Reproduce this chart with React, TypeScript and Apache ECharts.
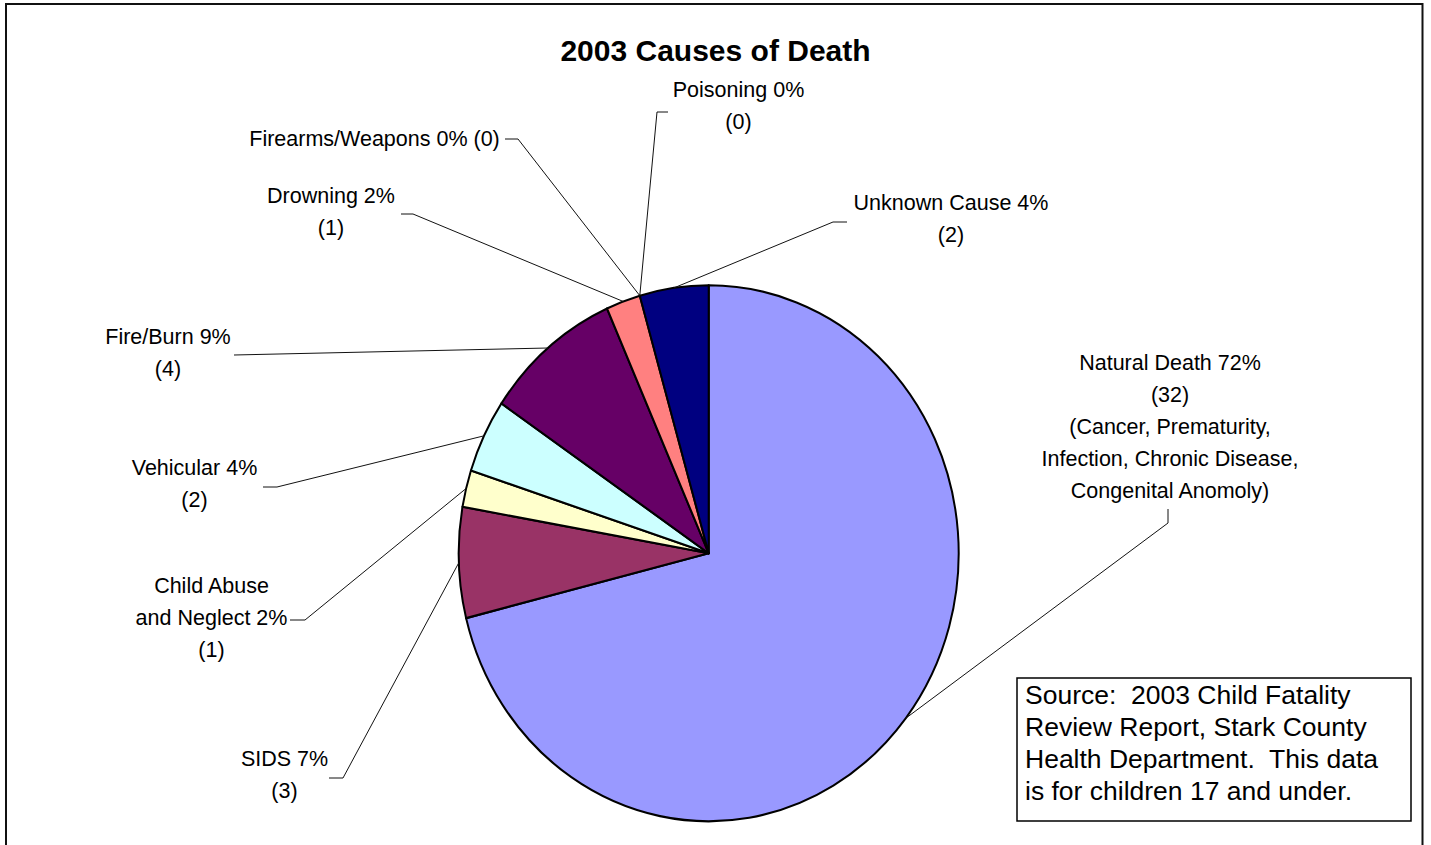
import React, { useEffect, useRef } from "react";
import * as echarts from "echarts";

// ---- data ----
const causes = [
  "Natural Death",
  "SIDS",
  "Child Abuse\nand Neglect",
  "Vehicular",
  "Fire/Burn",
  "Drowning",
  "Firearms/Weapons",
  "Poisoning",
  "Unknown Cause",
];
const deathCounts = [32, 3, 1, 2, 4, 1, 0, 0, 2];
const percentLabels = ["72%", "7%", "2%", "4%", "9%", "2%", "0%", "0%", "4%"];
const naturalDeathNote = "(Cancer, Prematurity,\nInfection, Chronic Disease,\nCongenital Anomoly)";
const sliceColors = ["#9999FF", "#993366", "#FFFFCC", "#CCFFFF", "#660066", "#FF8080", "#3366FF", "#CCCCFF", "#000080"];
const titleText = "2003 Causes of Death";
const sourceText =
  "Source:  2003 Child Fatality\nReview Report, Stark County\nHealth Department.  This data\nis for children 17 and under.";

// ---- layout (positions only) ----
const CX = 708.7;
const CY = 553.3;
const RX = 250;
const RY = 268;
const FONT = '"Liberation Sans", Arial, Helvetica, sans-serif';

const labelLayout = [
  { x: 1170, y: 427, pts: [[1168, 509], [1168, 523]] },
  { x: 284.5, y: 775, pts: [[329, 778], [343, 778]] },
  { x: 211.5, y: 617.5, pts: [[290, 620], [305, 620]] },
  { x: 194.5, y: 484, pts: [[263, 487], [277, 487]] },
  { x: 168, y: 353, pts: [[234, 355]] },
  { x: 331, y: 212, pts: [[401, 214], [413, 214]] },
  { x: 374.5, y: 139, pts: [[505, 139], [518, 139]] },
  { x: 738.5, y: 106, pts: [[668, 112], [657, 112]] },
  { x: 951, y: 219, pts: [[847, 222], [833, 222]] },
];

const total = deathCounts.reduce((a, b) => a + b, 0);
const cumStart = deathCounts.map((_, i) => deathCounts.slice(0, i).reduce((a, b) => a + b, 0));

function angles(i: number, v: number) {
  const a0 = -Math.PI / 2 + (2 * Math.PI * cumStart[i]) / total;
  const a1 = -Math.PI / 2 + (2 * Math.PI * (cumStart[i] + v)) / total;
  return [a0, a1];
}

function labelText(i: number) {
  const pct = percentLabels[i];
  const cnt = `(${deathCounts[i]})`;
  if (i === 6) return `${causes[i]} ${pct} ${cnt}`;
  let t = `${causes[i]} ${pct}\n${cnt}`;
  if (i === 0) t += "\n" + naturalDeathNote;
  return t;
}

export default function App() {
  const ref = useRef<HTMLDivElement>(null);
  useEffect(() => {
    if (!ref.current) return;
    const chart = echarts.init(ref.current, null, { renderer: "svg" });
    const seriesData = deathCounts.map((v, i) => ({ name: causes[i], value: v }));
    chart.setOption({
      animation: false,
      backgroundColor: "#ffffff",
      title: {
        text: titleText,
        left: "center",
        top: 35,
        padding: [0, 0, 0, 5],
        textStyle: {
          fontSize: 30,
          fontWeight: "bold",
          fontFamily: FONT,
          color: "#000",
          lineHeight: 30,
        },
      },
      series: [
        {
          type: "custom",
          name: "slices",
          coordinateSystem: "none",
          silent: true,
          z: 2,
          data: seriesData,
          renderItem: (params: any, api: any) => {
            const i = params.dataIndex;
            const v = api.value(0);
            if (!v) return { type: "group", children: [] };
            const [a0, a1] = angles(i, v);
            return {
              type: "sector",
              x: CX,
              y: CY,
              scaleY: RY / RX,
              shape: { cx: 0, cy: 0, r0: 0, r: RX, startAngle: a0, endAngle: a1, clockwise: true },
              style: { fill: sliceColors[i], stroke: "#000", lineWidth: 2, lineJoin: "round" },
            };
          },
        },
        {
          type: "custom",
          name: "labels",
          coordinateSystem: "none",
          silent: true,
          z: 3,
          data: seriesData,
          renderItem: (params: any, api: any) => {
            const i = params.dataIndex;
            const v = api.value(0);
            const [a0, a1] = angles(i, v);
            const mid = (a0 + a1) / 2;
            const ex = CX + RX * Math.cos(mid);
            const ey = CY + RY * Math.sin(mid);
            const lay = labelLayout[i];
            return {
              type: "group",
              children: [
                {
                  type: "polyline",
                  shape: { points: [...lay.pts, [ex, ey]] },
                  style: { stroke: "#111", lineWidth: 1, fill: "none" },
                },
                {
                  type: "text",
                  x: lay.x,
                  y: lay.y,
                  style: {
                    text: labelText(i),
                    align: "center",
                    verticalAlign: "middle",
                    fontSize: 21.5,
                    fontFamily: FONT,
                    lineHeight: 32,
                    fill: "#000",
                  },
                },
              ],
            };
          },
        },
      ],
      graphic: [
        {
          type: "rect",
          x: 6,
          y: 4,
          silent: true,
          shape: { x: 0, y: 0, width: 1416.5, height: 900 },
          style: { fill: "none", stroke: "#111", lineWidth: 2 },
        },
        {
          type: "rect",
          x: 1017,
          y: 678,
          silent: true,
          shape: { x: 0, y: 0, width: 394, height: 143 },
          style: { fill: "#fff", stroke: "#000", lineWidth: 1.5 },
        },
        {
          type: "text",
          x: 1025,
          y: 679,
          silent: true,
          style: {
            text: sourceText,
            align: "left",
            verticalAlign: "top",
            fontSize: 26.5,
            fontFamily: FONT,
            lineHeight: 32,
            fill: "#000",
          },
        },
      ],
    });
    return () => chart.dispose();
  }, []);
  return (
    <div
      ref={ref}
      style={{ position: "fixed", left: 0, top: 0, width: 1431, height: 845, background: "#fff" }}
    />
  );
}
